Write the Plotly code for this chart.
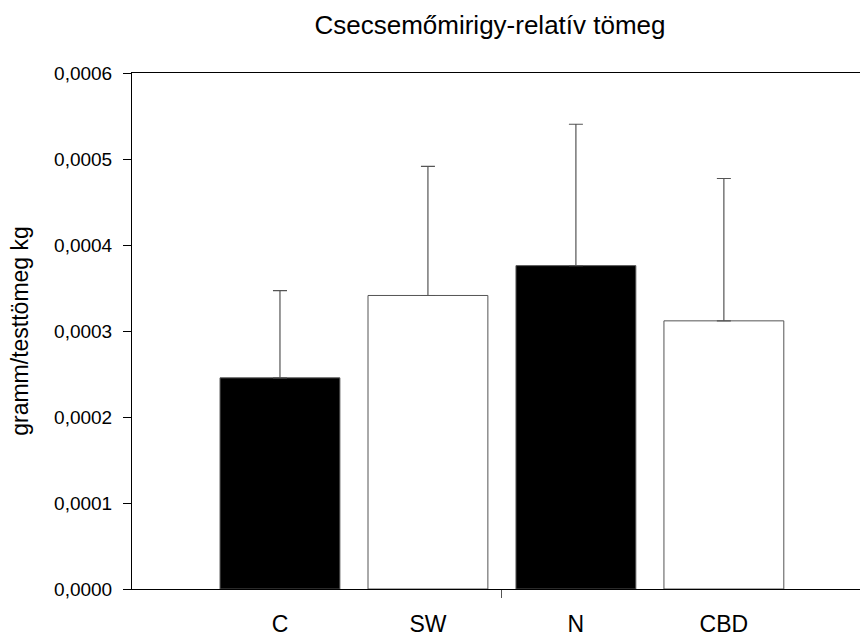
import plotly.graph_objects as go

categories = ["C", "SW", "N", "CBD"]
x_pos = [0, 1, 2, 3]
means = [0.0002455, 0.0003413, 0.000376, 0.0003118]
errors = [0.0001015, 0.0001502, 0.0001644, 0.0001655]
bar_colors = ["black", "white", "black", "white"]

FONT = "Liberation Sans, Arial, sans-serif"

fig = go.Figure()
fig.add_trace(go.Bar(
    x=x_pos, y=means, width=0.81,
    marker=dict(color=bar_colors, line=dict(color="#555555", width=1)),
    error_y=dict(type="data", array=errors, symmetric=False,
                 arrayminus=[0, 0, 0, 0], color="#555555", thickness=1.2, width=7),
    showlegend=False, hoverinfo="skip",
))
# invisible trace on overlay axis for the group divider tick
fig.add_trace(go.Scatter(x=[1.5], y=[0], xaxis="x2", mode="markers",
                         marker=dict(opacity=0), showlegend=False, hoverinfo="skip"))

xr = [-1.0, 3.92]
fig.update_layout(
    width=860, height=637,
    margin=dict(l=132, r=0, t=73, b=46),
    paper_bgcolor="white", plot_bgcolor="white",
    separators=",.",
    font=dict(family=FONT, color="black", size=19),
    title=dict(text="Csecsemőmirigy-relatív tömeg", x=490/860, xref="container",
               xanchor="center", y=1 - 25/637, yanchor="middle",
               font=dict(family=FONT, size=26, color="black")),
    xaxis=dict(range=xr, tickvals=x_pos, ticktext=categories, showline=True,
               linecolor="black", linewidth=1, mirror=True, ticks="outside",
               ticklen=14, tickcolor="rgba(0,0,0,0)", showgrid=False, zeroline=False,
               tickfont=dict(family=FONT, size=23)),
    xaxis2=dict(range=xr, overlaying="x", side="bottom", tickvals=[1.5],
                showticklabels=False, ticks="outside", ticklen=8, tickcolor="#555555",
                showline=False, showgrid=False, zeroline=False),
    yaxis=dict(range=[0, 0.0006], tickvals=[0, 0.0001, 0.0002, 0.0003, 0.0004, 0.0005, 0.0006],
               tickformat=".4f", showline=True, linecolor="black", linewidth=1,
               ticks="outside", ticklen=8, tickcolor="black", showgrid=False, zeroline=False,
               ticklabelstandoff=7,
               tickfont=dict(family=FONT, size=19),
               title=dict(text="gramm/testtömeg kg", standoff=19,
                          font=dict(family=FONT, size=23))),
)

fig.write_html("out.html")
